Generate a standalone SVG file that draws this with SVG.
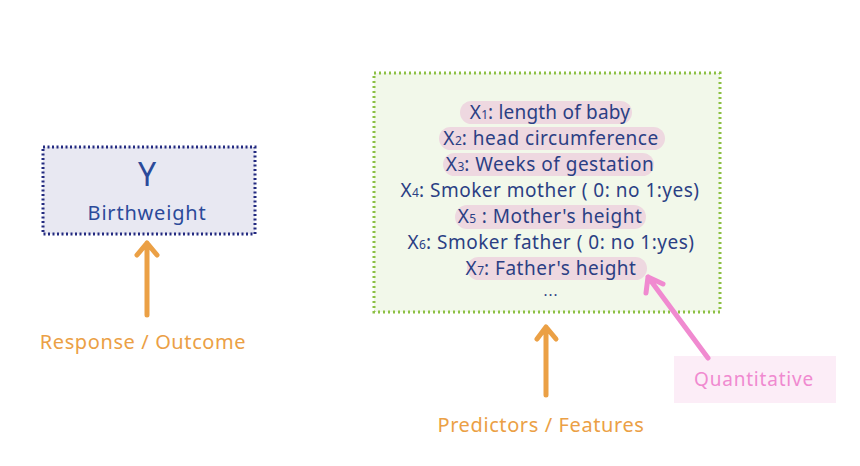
<svg xmlns="http://www.w3.org/2000/svg" width="860" height="466" viewBox="0 0 860 466">
<style>
text{font-family:"Noto Sans","Open Sans","Liberation Sans",sans-serif;text-anchor:middle}
.feat{font-size:19px;fill:#2b3f84;letter-spacing:0.5px}
.sub{font-size:12px;letter-spacing:0}
.pill{fill:#eed8e0}
.orange{stroke:#eba045;stroke-width:5;fill:none;stroke-linecap:round;stroke-linejoin:round}
.olab{font-size:20px;fill:#eba045;letter-spacing:0.6px}
</style>
<rect width="860" height="466" fill="#ffffff"/>
<g id="response">
<rect x="43" y="147" width="212" height="87" fill="#e8e8f2" stroke="#232a80" stroke-width="3" stroke-dasharray="2 2.5"/>
<text x="147" y="186" style="font-size:32px;fill:#2b4a9a">Y</text>
<text x="147" y="220" style="font-size:20px;fill:#2b4a9a;letter-spacing:0.8px">Birthweight</text>
</g>
<g id="predictors">
<rect x="374" y="73" width="346" height="239" fill="#f2f8ea" stroke="#8cc043" stroke-width="3" stroke-dasharray="2 3"/>
<rect class="pill" x="460" y="101" width="172" height="23" rx="11.5"/>
<rect class="pill" x="439" y="127" width="226" height="23" rx="11.5"/>
<rect class="pill" x="443" y="153" width="211" height="23" rx="11.5"/>
<rect class="pill" x="455" y="205" width="191" height="24" rx="12"/>
<rect class="pill" x="467" y="257" width="180" height="23" rx="11.5"/>
<text class="feat" x="550" y="119" style="letter-spacing:0.2px">X<tspan class="sub">1</tspan>: length of baby</text>
<text class="feat" x="551" y="145">X<tspan class="sub">2</tspan>: head circumference</text>
<text class="feat" x="550" y="171">X<tspan class="sub">3</tspan>: Weeks of gestation</text>
<text class="feat" x="550" y="197">X<tspan class="sub">4</tspan>: Smoker mother ( 0: no 1:yes)</text>
<text class="feat" x="550" y="223">X<tspan class="sub">5</tspan> : Mother's height</text>
<text class="feat" x="551" y="249">X<tspan class="sub">6</tspan>: Smoker father ( 0: no 1:yes)</text>
<text class="feat" x="551" y="275">X<tspan class="sub">7</tspan>: Father's height</text>
<text x="551" y="296" style="font-size:15px;fill:#2b3f84;letter-spacing:1px">...</text>
</g>
<g id="quantitative">
<rect x="674" y="356" width="162" height="47" fill="#fcedf7"/>
<text x="754" y="386" style="font-size:19px;fill:#f08ad0;letter-spacing:0.8px">Quantitative</text>
</g>
<g id="response-label">
<text class="olab" x="143" y="349">Response / Outcome</text>
</g>
<g id="predictors-label">
<text class="olab" x="541" y="432">Predictors / Features</text>
</g>
<g id="connectors">
<path class="orange" d="M147 315 V243 M137 255 L147 243 L157 255"/>
<path class="orange" d="M546 395 V327 M537 339 L546 327 L556 339"/>
<path d="M708 358 L648 277 M646 293 L648 277 L663 284" stroke="#f08ad0" stroke-width="5" fill="none" stroke-linecap="round" stroke-linejoin="round"/>
</g>
</svg>
